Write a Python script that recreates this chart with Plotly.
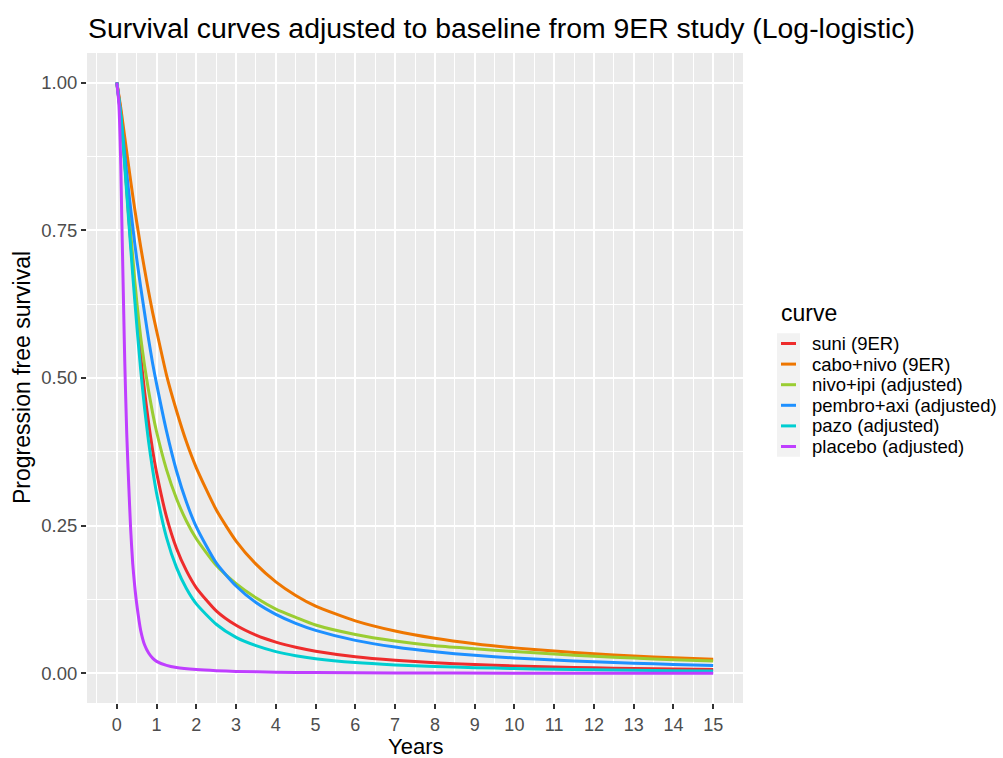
import plotly.graph_objects as go

# ---------------- data ----------------
years = [0, 0.1, 0.2, 0.3, 0.4, 0.5, 0.6, 0.7, 0.8, 0.9, 1.0, 1.25, 1.5, 1.75, 2.0,
         2.5, 3.0, 3.5, 4.0, 4.5, 5, 6, 7, 8, 9, 10, 11, 12, 13, 14, 15]

suni_9er = [1.0, 0.950, 0.865, 0.772, 0.690, 0.609, 0.538, 0.476, 0.424, 0.378, 0.340,
            0.265, 0.212, 0.174, 0.145, 0.106, 0.0815, 0.0648, 0.0530, 0.0443, 0.0377,
            0.0284, 0.0224, 0.0181, 0.0151, 0.0128, 0.0110, 0.0096, 0.0084, 0.0075, 0.0067]
cabo_nivo_9er = [1.0, 0.957, 0.907, 0.857, 0.809, 0.764, 0.722, 0.683, 0.646, 0.611, 0.580,
                 0.505, 0.445, 0.392, 0.348, 0.277, 0.224, 0.185, 0.155, 0.132, 0.114,
                 0.0890, 0.0718, 0.0595, 0.0503, 0.0433, 0.0378, 0.0333, 0.0296, 0.0266, 0.0240]
nivo_ipi_adj = [1.0, 0.942, 0.866, 0.782, 0.705, 0.630, 0.569, 0.520, 0.478, 0.441, 0.409,
                0.345, 0.296, 0.258, 0.228, 0.183, 0.152, 0.128, 0.109, 0.095, 0.082,
                0.066, 0.055, 0.047, 0.042, 0.037, 0.033, 0.029, 0.026, 0.023, 0.021]
pembro_axi_adj = [1.0, 0.944, 0.878, 0.815, 0.756, 0.702, 0.654, 0.609, 0.565, 0.525, 0.490,
                  0.410, 0.343, 0.290, 0.248, 0.187, 0.148, 0.120, 0.100, 0.0848, 0.0730,
                  0.0560, 0.0446, 0.0366, 0.0307, 0.0262, 0.0227, 0.0199, 0.0174, 0.0152, 0.0133]
pazo_adj = [1.0, 0.945, 0.858, 0.765, 0.675, 0.591, 0.514, 0.448, 0.392, 0.345, 0.305,
            0.230, 0.1795, 0.1437, 0.1177, 0.0833, 0.061, 0.047, 0.037, 0.030, 0.025,
            0.0185, 0.0145, 0.0118, 0.0098, 0.0083, 0.0071, 0.0061, 0.0053, 0.0047, 0.0042]

years_placebo = [0, 0.05, 0.1, 0.125, 0.15, 0.175, 0.2, 0.25, 0.3, 0.35, 0.4, 0.45, 0.5,
                 0.6, 0.7, 0.8, 0.9, 1.0, 1.25, 1.5, 2, 2.5, 3, 4, 5, 7, 10, 15]
placebo_adj = [1.0, 0.965, 0.86, 0.77, 0.688, 0.606, 0.527, 0.405, 0.318, 0.242, 0.186,
               0.148, 0.118, 0.073, 0.048, 0.0345, 0.026, 0.0205, 0.0136, 0.0100, 0.0066,
               0.0047, 0.0035, 0.0022, 0.0015, 0.0008, 0.0004, 0.0002]

curve_names = ["suni (9ER)", "cabo+nivo (9ER)", "nivo+ipi (adjusted)",
               "pembro+axi (adjusted)", "pazo (adjusted)", "placebo (adjusted)"]
curve_colors = ["#EE2C2C", "#EE7600", "#9ACD32", "#1E90FF", "#00CED1", "#BF3EFF"]

x_ticks = list(range(0, 16))
y_ticks = [0, 0.25, 0.5, 0.75, 1.0]
y_ticktext = ["%.2f" % v for v in y_ticks]

title_text = "Survival curves adjusted to baseline from 9ER study (Log-logistic)"
x_title = "Years"
y_title = "Progression free survival"
legend_title = "curve"

# ---------------- figure ----------------
W, H = 1003, 758
L, R, T, B = 87, 743, 53, 703  # panel box in pixels
FONT = "Liberation Sans, Arial, Helvetica, sans-serif"

series_x = [years, years, years, years, years, years_placebo]
series_y = [suni_9er, cabo_nivo_9er, nivo_ipi_adj, pembro_axi_adj, pazo_adj, placebo_adj]

fig = go.Figure()
for name, col, xs, ys in zip(curve_names, curve_colors, series_x, series_y):
    fig.add_trace(go.Scatter(x=xs, y=ys, mode="lines", name=name,
                             line=dict(color=col, width=3, shape="spline", smoothing=0.6),
                             showlegend=False))


def px_x(p):
    return (p - L) / (R - L)


def px_y(p):
    return (B - p) / (B - T)


shapes = []
annotations = []

# legend (ggplot style, drawn manually)
item_y = [343.5 + 20.6 * i for i in range(len(curve_names))]
shapes.append(dict(type="rect", xref="paper", yref="paper",
                   x0=px_x(777), x1=px_x(800), y0=px_y(item_y[0] - 10.3), y1=px_y(item_y[-1] + 10.3),
                   fillcolor="#F2F2F2", line=dict(width=0), layer="below"))
for name, col, yy in zip(curve_names, curve_colors, item_y):
    shapes.append(dict(type="line", xref="paper", yref="paper",
                       x0=px_x(781), x1=px_x(796), y0=px_y(yy), y1=px_y(yy),
                       line=dict(color=col, width=3)))
    annotations.append(dict(text=name, xref="paper", yref="paper", x=px_x(810), y=px_y(yy),
                            xanchor="left", yanchor="middle", showarrow=False,
                            font=dict(family=FONT, size=18.5, color="#000000")))
annotations.append(dict(text=legend_title, xref="paper", yref="paper", x=px_x(779), y=px_y(313),
                        xanchor="left", yanchor="middle", showarrow=False,
                        font=dict(family=FONT, size=23, color="#000000")))

# axis titles
annotations.append(dict(text=x_title, xref="paper", yref="paper", x=0.5, y=px_y(746.5),
                        xanchor="center", yanchor="middle", showarrow=False,
                        font=dict(family=FONT, size=22, color="#000000")))
annotations.append(dict(text=y_title, xref="paper", yref="paper", x=px_x(22), y=0.5,
                        xanchor="center", yanchor="middle", showarrow=False, textangle=-90,
                        font=dict(family=FONT, size=23, color="#000000")))

fig.update_layout(
    width=W, height=H,
    margin=dict(l=L, r=W - R, t=T, b=H - B, pad=0),
    paper_bgcolor="#FFFFFF",
    plot_bgcolor="#EBEBEB",
    title=dict(text=title_text, x=px_x(88), xref="paper", xanchor="left",
               y=1 - 28 / H, yref="container", yanchor="middle",
               font=dict(family=FONT, size=28.4, color="#000000")),
    shapes=shapes,
    annotations=annotations,
    showlegend=False,
)

fig.update_xaxes(
    range=[-0.75, 15.75], tickmode="array", tickvals=x_ticks,
    ticktext=[str(v) for v in x_ticks],
    ticks="outside", ticklen=5, tickwidth=2, tickcolor="#333333",
    tickfont=dict(family=FONT, size=18, color="#4D4D4D"),
    showgrid=True, gridcolor="#FFFFFF", gridwidth=2.2,
    minor=dict(tick0=0, dtick=0.5, showgrid=True, gridcolor="#FFFFFF", gridwidth=1.1, ticklen=0),
    zeroline=False, showline=False,
)
fig.update_yaxes(
    range=[-0.05, 1.05], tickmode="array", tickvals=y_ticks, ticktext=y_ticktext,
    ticks="outside", ticklen=5, tickwidth=2, tickcolor="#333333",
    tickfont=dict(family=FONT, size=18.5, color="#4D4D4D"),
    showgrid=True, gridcolor="#FFFFFF", gridwidth=2.2,
    minor=dict(tick0=0, dtick=0.125, showgrid=True, gridcolor="#FFFFFF", gridwidth=1.1, ticklen=0),
    zeroline=False, showline=False,
)

fig.write_html("out.html")
